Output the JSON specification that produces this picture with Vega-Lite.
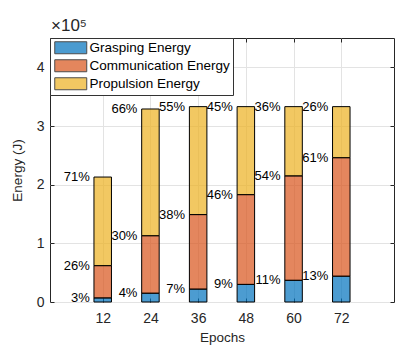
{
  "$schema": "https://vega.github.io/schema/vega-lite/v6.json",
  "width": 344,
  "height": 264,
  "autosize": "none",
  "padding": {"left": 50, "top": 38, "right": 4, "bottom": 49},
  "background": "white",
  "config": {
    "font": "Liberation Sans",
    "view": {"stroke": "#262626", "strokeWidth": 1},
    "axis": {
      "labelFont": "Liberation Sans", "titleFont": "Liberation Sans",
      "labelFontSize": 14, "titleFontSize": 13.5,
      "labelColor": "#262626", "titleColor": "#262626",
      "titleFontWeight": "normal",
      "gridColor": "#e3e3e3", "gridWidth": 1,
      "tickColor": "#262626", "tickSize": -4,
      "domain": false
    },
    "legend": {
      "labelFont": "Liberation Sans", "labelFontSize": 13.5, "labelColor": "#000000"
    },
    "title": {"font": "Liberation Sans", "fontSize": 13, "fontWeight": "normal", "color": "#262626"}
  },
  "title": {"text": "×10⁵", "anchor": "start", "frame": "group", "offset": 3, "fontSize": 17, "dx": 1},
  "data": {
    "values": [
      {"epoch": 12, "type": "Grasping Energy", "energy": 7000, "label": "3%"},
      {"epoch": 12, "type": "Communication Energy", "energy": 55000, "label": "26%"},
      {"epoch": 12, "type": "Propulsion  Energy", "energy": 151000, "label": "71%"},
      {"epoch": 24, "type": "Grasping Energy", "energy": 15000, "label": "4%"},
      {"epoch": 24, "type": "Communication Energy", "energy": 98000, "label": "30%"},
      {"epoch": 24, "type": "Propulsion  Energy", "energy": 216000, "label": "66%"},
      {"epoch": 36, "type": "Grasping Energy", "energy": 22000, "label": "7%"},
      {"epoch": 36, "type": "Communication Energy", "energy": 127000, "label": "38%"},
      {"epoch": 36, "type": "Propulsion  Energy", "energy": 184000, "label": "55%"},
      {"epoch": 48, "type": "Grasping Energy", "energy": 30000, "label": "9%"},
      {"epoch": 48, "type": "Communication Energy", "energy": 153000, "label": "46%"},
      {"epoch": 48, "type": "Propulsion  Energy", "energy": 150000, "label": "45%"},
      {"epoch": 60, "type": "Grasping Energy", "energy": 37000, "label": "11%"},
      {"epoch": 60, "type": "Communication Energy", "energy": 178000, "label": "54%"},
      {"epoch": 60, "type": "Propulsion  Energy", "energy": 118000, "label": "36%"},
      {"epoch": 72, "type": "Grasping Energy", "energy": 44000, "label": "13%"},
      {"epoch": 72, "type": "Communication Energy", "energy": 202000, "label": "61%"},
      {"epoch": 72, "type": "Propulsion  Energy", "energy": 87000, "label": "26%"}
    ]
  },
  "transform": [
    {"calculate": "indexof(['Grasping Energy','Communication Energy','Propulsion  Energy'], datum.type)", "as": "ord"}
  ],
  "layer": [
    {
      "mark": {"type": "bar", "size": 17.5, "fillOpacity": 0.7, "stroke": "#000000", "strokeWidth": 1},
      "encoding": {
        "x": {
          "field": "epoch", "type": "quantitative",
          "scale": {"domain": [0, 84], "nice": false, "zero": false},
          "axis": {"values": [12, 24, 36, 48, 60, 72], "title": "Epochs", "labelPadding": 13, "titlePadding": 5}
        },
        "y": {
          "field": "energy", "type": "quantitative", "stack": "zero",
          "scale": {"domain": [0, 450000], "nice": false},
          "axis": {"values": [0, 100000, 200000, 300000, 400000], "labelExpr": "datum.value / 100000", "title": "Energy (J)", "labelPadding": 10, "titlePadding": 12}
        },
        "color": {
          "field": "type", "type": "nominal",
          "scale": {"domain": ["Grasping Energy", "Communication Energy", "Propulsion  Energy"], "range": ["#0072BD", "#D95319", "#EDB120"]},
          "legend": {
            "title": null, "orient": "top-left", "offset": 0,
            "strokeColor": "#333333", "fillColor": "white", "padding": 3,
            "symbolType": "M-1,-1.2H5.4V1.2H-1Z", "symbolSize": 100,
            "symbolStrokeColor": "#000000", "symbolStrokeWidth": 1, "symbolOpacity": 0.7,
            "labelOffset": 23, "rowPadding": 1
          }
        },
        "order": {"field": "ord", "type": "quantitative"}
      }
    },
    {
      "mark": {"type": "text", "align": "right", "baseline": "middle", "dx": -13, "fontSize": 13, "color": "#000000"},
      "encoding": {
        "x": {"field": "epoch", "type": "quantitative",
          "axis": {"orient": "top", "values": [12, 24, 36, 48, 60, 72], "labels": false, "title": null, "grid": false}},
        "y": {"field": "energy", "type": "quantitative", "stack": "zero",
          "axis": {"orient": "right", "values": [0, 100000, 200000, 300000, 400000], "labels": false, "title": null, "grid": false}},
        "detail": {"field": "type"},
        "order": {"field": "ord", "type": "quantitative"},
        "text": {"field": "label"}
      }
    }
  ],
  "resolve": {"axis": {"x": "independent", "y": "independent"}}
}
